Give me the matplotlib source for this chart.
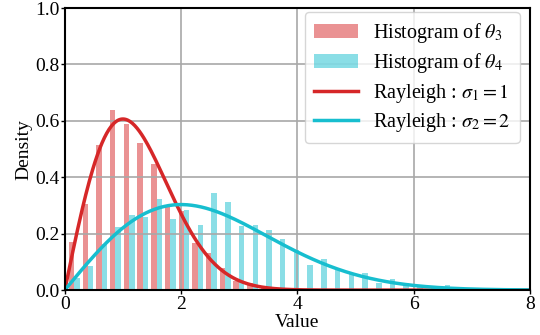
import matplotlib
matplotlib.use("Agg")
import matplotlib.pyplot as plt
import numpy as np

plt.rcParams["font.family"] = ["Liberation Serif", "DejaVu Serif"]
plt.rcParams["mathtext.fontset"] = "stix"

# histogram bins
bin_start = 0.045
bin_width = 0.236
n_bins = 30

theta3_density = [0.171, 0.305, 0.514, 0.638, 0.588, 0.522, 0.447, 0.293, 0.280, 0.168,
                  0.132, 0.080, 0.033, 0.024, 0.012, 0.006, 0.004, 0.002, 0.002, 0.001,
                  0.0, 0.0, 0.0, 0.0, 0.0, 0.0, 0.0, 0.0, 0.0, 0.0]
theta4_density = [0.044, 0.086, 0.163, 0.223, 0.266, 0.260, 0.323, 0.252, 0.284, 0.230,
                  0.346, 0.312, 0.227, 0.230, 0.213, 0.180, 0.142, 0.089, 0.109, 0.071,
                  0.059, 0.061, 0.026, 0.038, 0.026, 0.012, 0.008, 0.018, 0.004, 0.004]

sigmas = [1, 2]

edges = bin_start + bin_width * np.arange(n_bins + 1)
centers = 0.5 * (edges[:-1] + edges[1:])


def rayleigh_pdf(x, s):
    return x / s**2 * np.exp(-x**2 / (2 * s**2))


fig = plt.figure(figsize=(5.4, 3.35), dpi=100)
ax = fig.add_axes([0.120, 0.134, 0.861, 0.842])

ax.hist([centers, centers], bins=edges, weights=[theta3_density, theta4_density],
        color=["tab:red", "tab:cyan"], alpha=0.5,
        label=[r"Histogram of $\theta_3$", r"Histogram of $\theta_4$"])

x = np.linspace(0, 8, 400)
ax.plot(x, rayleigh_pdf(x, sigmas[0]), color="tab:red", lw=2.5,
        label=r"Rayleigh : $\sigma_1 = 1$")
ax.plot(x, rayleigh_pdf(x, sigmas[1]), color="tab:cyan", lw=2.5,
        label=r"Rayleigh : $\sigma_2 = 2$")

ax.set_xlim(0, 8)
ax.set_ylim(0, 1.0)
ax.set_xticks([0, 2, 4, 6, 8])
ax.set_yticks(np.arange(0, 1.01, 0.2))
ax.tick_params(labelsize=14, length=3, width=1, pad=1)
ax.set_xlabel("Value", fontsize=14, labelpad=1)
ax.set_ylabel("Density", fontsize=14, labelpad=2)
ax.grid(True, color="#a8a8a8", lw=1.2)
for sp in ax.spines.values():
    sp.set_linewidth(1.5)

ax.legend(loc="upper right", bbox_to_anchor=(0.978, 0.986), fontsize=14.5,
          handlelength=2.2, borderpad=0.45, labelspacing=0.32,
          handletextpad=0.75, borderaxespad=0)

fig.savefig("out.png", dpi=100)
